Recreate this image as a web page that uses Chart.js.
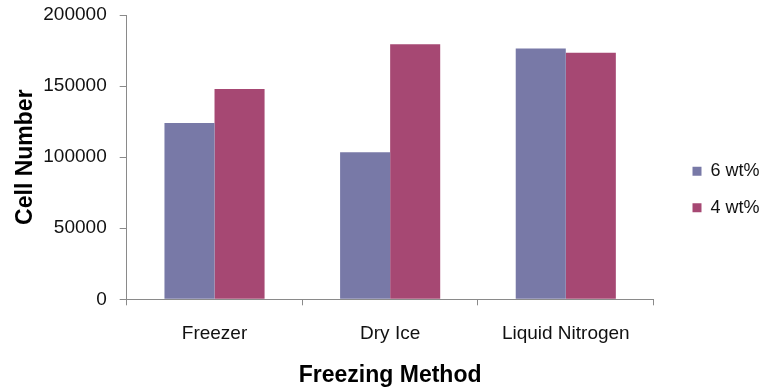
<!DOCTYPE html>
<html>
<head>
<meta charset="utf-8">
<script src="https://cdn.jsdelivr.net/npm/chart.js@4"></script>
<style>
  html, body { margin: 0; padding: 0; background: #fff; }
  #wrap { width: 759px; height: 389px; }
</style>
</head>
<body>
<div id="wrap"><canvas id="cellChart" width="759" height="389"></canvas></div>
<script>
// Data
const methods = ['Freezer', 'Dry Ice', 'Liquid Nitrogen'];
const sixWt = [124000, 103500, 176500];
const fourWt = [148000, 179500, 173500];
const seriesNames = ['6 wt%', '4 wt%'];
const yTicks = [0, 50000, 100000, 150000, 200000];

const FONT = 'Liberation Sans, Arial, Helvetica, sans-serif';

const ctx = document.getElementById('cellChart').getContext('2d');

new Chart(ctx, {
  type: 'bar',
  data: {
    labels: methods,
    datasets: [
      { label: seriesNames[0], data: sixWt, backgroundColor: '#7879a7', yAxisID: 'y' },
      { label: seriesNames[1], data: fourWt, backgroundColor: '#a64873', yAxisID: 'y' }
    ]
  },
  options: {
    responsive: false,
    animation: false,
    layout: { padding: { top: 15, bottom: 25, left: 0, right: 0 } },
    datasets: { bar: { barPercentage: 1, categoryPercentage: 0.57 } },
    plugins: {
      tooltip: { enabled: false },
      legend: {
        position: 'right',
        maxWidth: 85,
        labels: {
          boxWidth: 9,
          boxHeight: 9,
          padding: 18.5,
          color: '#111',
          font: { family: FONT, size: 18 }
        }
      }
    },
    scales: {
      x: {
        grid: { drawOnChartArea: false, drawTicks: true, tickLength: 6, color: '#8a8a8a' },
        border: { color: '#8a8a8a' },
        ticks: { color: '#111', padding: 17, font: { family: FONT, size: 19 } },
        title: {
          display: true,
          text: 'Freezing Method',
          color: '#000',
          font: { family: FONT, size: 23, weight: 'bold' },
          padding: { top: 0, bottom: -25.5 }
        },
        afterFit: s => { s.height = 64.7; }
      },
      y: {
        min: 0,
        max: 200000,
        afterBuildTicks: s => { s.ticks = yTicks.map(v => ({ value: v })); },
        grid: { drawOnChartArea: false, drawTicks: true, tickLength: 7, color: '#8a8a8a' },
        border: { color: '#8a8a8a' },
        ticks: {
          color: '#111',
          padding: 13,
          font: { family: FONT, size: 19 },
          callback: v => String(v)
        },
        title: {
          display: true,
          text: 'Cell Number',
          color: '#000',
          font: { family: FONT, size: 23, weight: 'bold' },
          padding: { top: 12, bottom: 0 }
        },
        afterFit: s => {
          s.width = 126.7;
          s.paddingTop = 0;
          s.paddingBottom = 0;
        }
      },
      // empty axis that only keeps the gap between the plot and the legend
      gap: {
        type: 'linear',
        position: 'right',
        grid: { display: false },
        border: { display: false },
        ticks: { display: false },
        afterFit: s => { s.width = 20.4; }
      }
    }
  }
});
</script>
</body>
</html>
